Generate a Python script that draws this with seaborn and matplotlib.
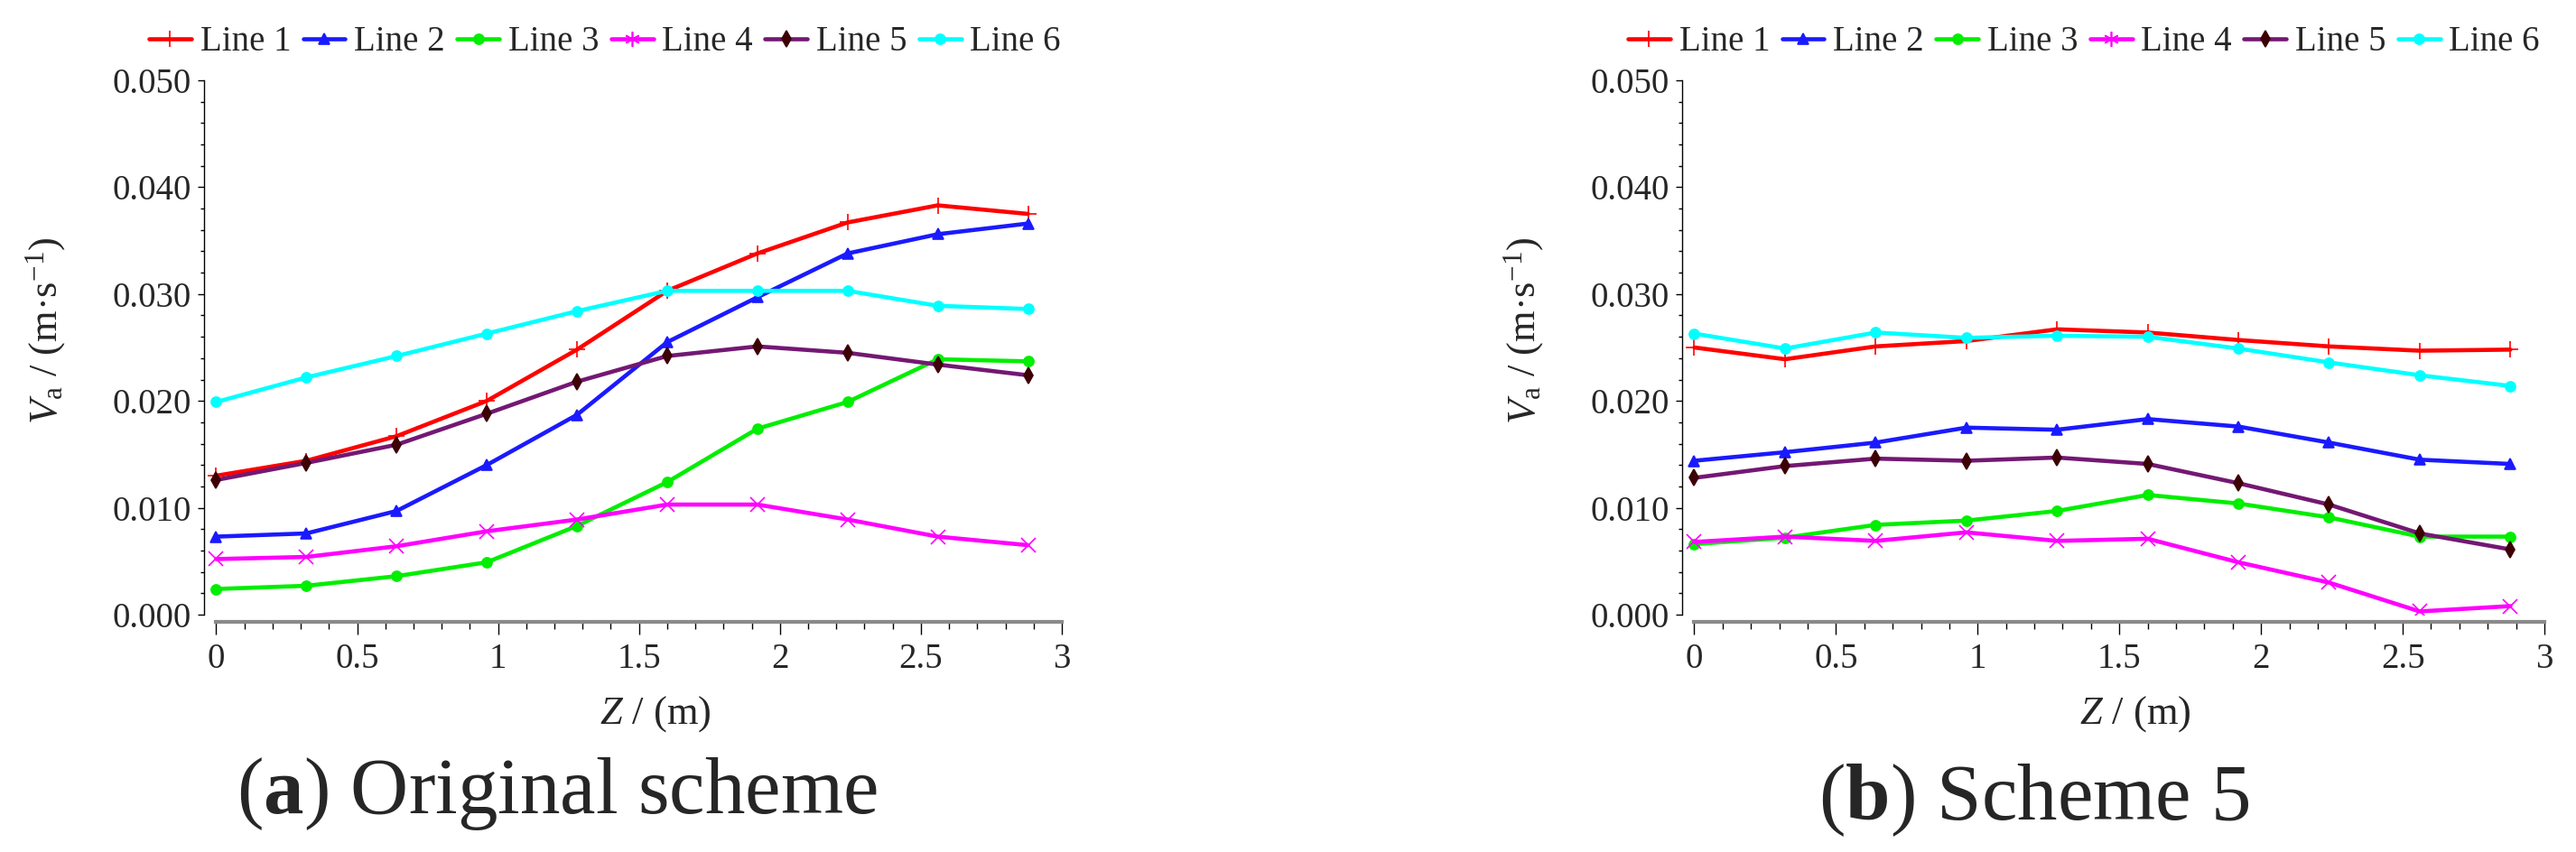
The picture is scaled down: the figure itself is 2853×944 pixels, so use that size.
import numpy as np
import pandas as pd
import matplotlib
matplotlib.use("Agg")
import matplotlib.pyplot as plt
from matplotlib import font_manager
from matplotlib.lines import Line2D
from matplotlib.ticker import MultipleLocator, FormatStrFormatter, FuncFormatter
import seaborn as sns

# ---- data ----
z_pos = [0.0, 0.32, 0.64, 0.96, 1.28, 1.60, 1.92, 2.24, 2.56, 2.88]
line_names = ["Line 1", "Line 2", "Line 3", "Line 4", "Line 5", "Line 6"]

# (a) original scheme
orig_l1 = [0.0130, 0.0144, 0.0167, 0.0200, 0.0248, 0.0303, 0.0338, 0.0367, 0.0383, 0.0375]
orig_l2 = [0.0073, 0.0076, 0.0097, 0.0140, 0.0187, 0.0255, 0.0297, 0.0338, 0.0356, 0.0366]
orig_l3 = [0.0024, 0.0027, 0.0036, 0.0049, 0.0083, 0.0124, 0.0174, 0.0199, 0.0239, 0.0237]
orig_l4 = [0.0052, 0.0054, 0.0064, 0.0078, 0.0089, 0.0103, 0.0103, 0.0089, 0.0073, 0.0065]
orig_l5 = [0.0126, 0.0142, 0.0159, 0.0188, 0.0218, 0.0242, 0.0251, 0.0245, 0.0234, 0.0224]
orig_l6 = [0.0199, 0.0222, 0.0242, 0.0263, 0.0284, 0.0303, 0.0303, 0.0303, 0.0289, 0.0286]

# (b) scheme 5
s5_l1 = [0.0250, 0.0239, 0.0251, 0.0256, 0.0267, 0.0264, 0.0257, 0.0251, 0.0247, 0.0248]
s5_l2 = [0.0144, 0.0152, 0.0161, 0.0175, 0.0173, 0.0183, 0.0176, 0.0161, 0.0145, 0.0141]
s5_l3 = [0.0066, 0.0072, 0.0084, 0.0088, 0.0097, 0.0112, 0.0104, 0.0091, 0.0073, 0.0073]
s5_l4 = [0.0068, 0.0073, 0.0069, 0.0077, 0.0069, 0.0071, 0.0049, 0.0030, 0.0003, 0.0008]
s5_l5 = [0.0128, 0.0139, 0.0146, 0.0144, 0.0147, 0.0141, 0.0123, 0.0103, 0.0076, 0.0061]
s5_l6 = [0.0263, 0.0249, 0.0264, 0.0259, 0.0261, 0.0260, 0.0249, 0.0236, 0.0224, 0.0214]

captions = [r"($\mathbf{a}$) Original scheme", r"($\mathbf{b}$) Scheme 5"]

# ---- styles ----
line_colors = {"Line 1": "#ff0000", "Line 2": "#1a1aff", "Line 3": "#00ee00",
               "Line 4": "#ff00ff", "Line 5": "#731873", "Line 6": "#00ffff"}
marker_colors = {"Line 1": "#ff0000", "Line 2": "#1a1aff", "Line 3": "#00ee00",
                 "Line 4": "#ff00ff", "Line 5": "#3d0005", "Line 6": "#00ffff"}
markers = {"Line 1": "+", "Line 2": "^", "Line 3": "o", "Line 4": "x", "Line 5": "d", "Line 6": "o"}
legend_markers = dict(markers, **{"Line 4": (6, 2, 0)})
msizes = {"Line 1": 13, "Line 2": 9, "Line 3": 8, "Line 4": 12, "Line 5": 9, "Line 6": 8}

sns.set_theme(style="ticks")

# Times-like serif; fall back to DejaVu Serif if Liberation Serif is missing
installed = {f.name for f in font_manager.fontManager.ttflist}
serif_name = "Liberation Serif" if "Liberation Serif" in installed else "DejaVu Serif"
plt.rcParams["font.family"] = "serif"
plt.rcParams["font.serif"] = [serif_name, "DejaVu Serif"]
plt.rcParams["mathtext.fontset"] = "custom"
plt.rcParams["mathtext.rm"] = serif_name
plt.rcParams["mathtext.it"] = serif_name + ":italic"
plt.rcParams["mathtext.bf"] = serif_name + ":bold"

W, H = 2853, 944
fig = plt.figure(figsize=(W / 100, H / 100), dpi=100)

# pixel layout: axes left/right, ylabel x, legend centre x, caption centre
panels = [
    (226, 1176, [orig_l1, orig_l2, orig_l3, orig_l4, orig_l5, orig_l6], 51, 670, 617, 880),
    (1863, 2818, [s5_l1, s5_l2, s5_l3, s5_l4, s5_l5, s5_l6], 1688, 2308, 2253, 887),
]
ax_top, ax_bot = 89, 681

for (left_px, right_px, series, ylab_x, leg_x, cap_x, cap_y), cap in zip(panels, captions):
    ax = fig.add_axes([left_px / W, 1 - ax_bot / H, (right_px - left_px) / W, (ax_bot - ax_top) / H])
    df = pd.DataFrame({
        "Z": np.tile(z_pos, len(line_names)),
        "Va": np.concatenate(series),
        "line": np.repeat(line_names, len(z_pos)),
    })
    sns.lineplot(data=df, x="Z", y="Va", hue="line", palette=line_colors,
                 lw=3.3, legend=False, sort=False, ax=ax)
    for ln, name in zip(ax.lines, line_names):
        ln.set_marker(markers[name])
        ln.set_markersize(msizes[name])
        ln.set_markerfacecolor(marker_colors[name])
        ln.set_markeredgecolor(marker_colors[name])
        ln.set_markeredgewidth(1.2)

    ax.set_xlim(-0.043, 3.0)
    ax.set_ylim(0, 0.05)
    ax.xaxis.set_major_locator(MultipleLocator(0.5))
    ax.xaxis.set_minor_locator(MultipleLocator(0.1))
    ax.yaxis.set_major_locator(MultipleLocator(0.01))
    ax.yaxis.set_minor_locator(MultipleLocator(0.002))
    ax.xaxis.set_major_formatter(FuncFormatter(lambda v, p: f"{v:g}"))
    ax.yaxis.set_major_formatter(FormatStrFormatter("%.3f"))

    sns.despine(ax=ax)
    ax.spines["bottom"].set_bounds(0, 3)
    ax.spines["bottom"].set_position(("outward", 6))
    ax.spines["bottom"].set_color("#8a8a8a")
    ax.spines["bottom"].set_linewidth(3)
    ax.spines["left"].set_color("black")
    ax.spines["left"].set_linewidth(1)
    ax.tick_params(axis="x", which="major", length=10, width=1, color="black", labelsize=28, pad=6)
    ax.tick_params(axis="x", which="minor", length=6, width=1, color="black")
    ax.tick_params(axis="y", which="major", length=5, width=1, color="black", labelsize=28, pad=5)
    ax.tick_params(axis="y", which="minor", length=3, width=1, color="black")
    ax.grid(False)

    ax.set_xlabel(r"$Z$ / (m)", fontsize=32)
    ax.xaxis.label.set_va("center")
    ax.xaxis.set_label_coords(0.526, -(791 - ax_bot) / (ax_bot - ax_top))
    ax.set_ylabel(r"$V_{\mathrm{a}}$ / (m·s$^{-1}$)", fontsize=32)
    ax.yaxis.label.set_va("center")
    ax.yaxis.set_label_coords((ylab_x - left_px) / (right_px - left_px),
                              (ax_bot - 366) / (ax_bot - ax_top))

    handles = [Line2D([], [], color=line_colors[n], lw=3.3, marker=legend_markers[n],
                      markersize=msizes[n], markerfacecolor=marker_colors[n],
                      markeredgecolor=marker_colors[n], markeredgewidth=1.2) for n in line_names]
    fig.legend(handles, line_names, loc="center", bbox_to_anchor=(leg_x / W, 1 - 47 / H),
               ncol=6, frameon=False, fontsize=28, handlelength=1.2, handletextpad=0.25,
               columnspacing=0.35, borderaxespad=0, borderpad=0)

    fig.text(cap_x / W, 1 - cap_y / H, cap, fontsize=64, ha="center", va="center")

fig.savefig("out.png", dpi=100)
